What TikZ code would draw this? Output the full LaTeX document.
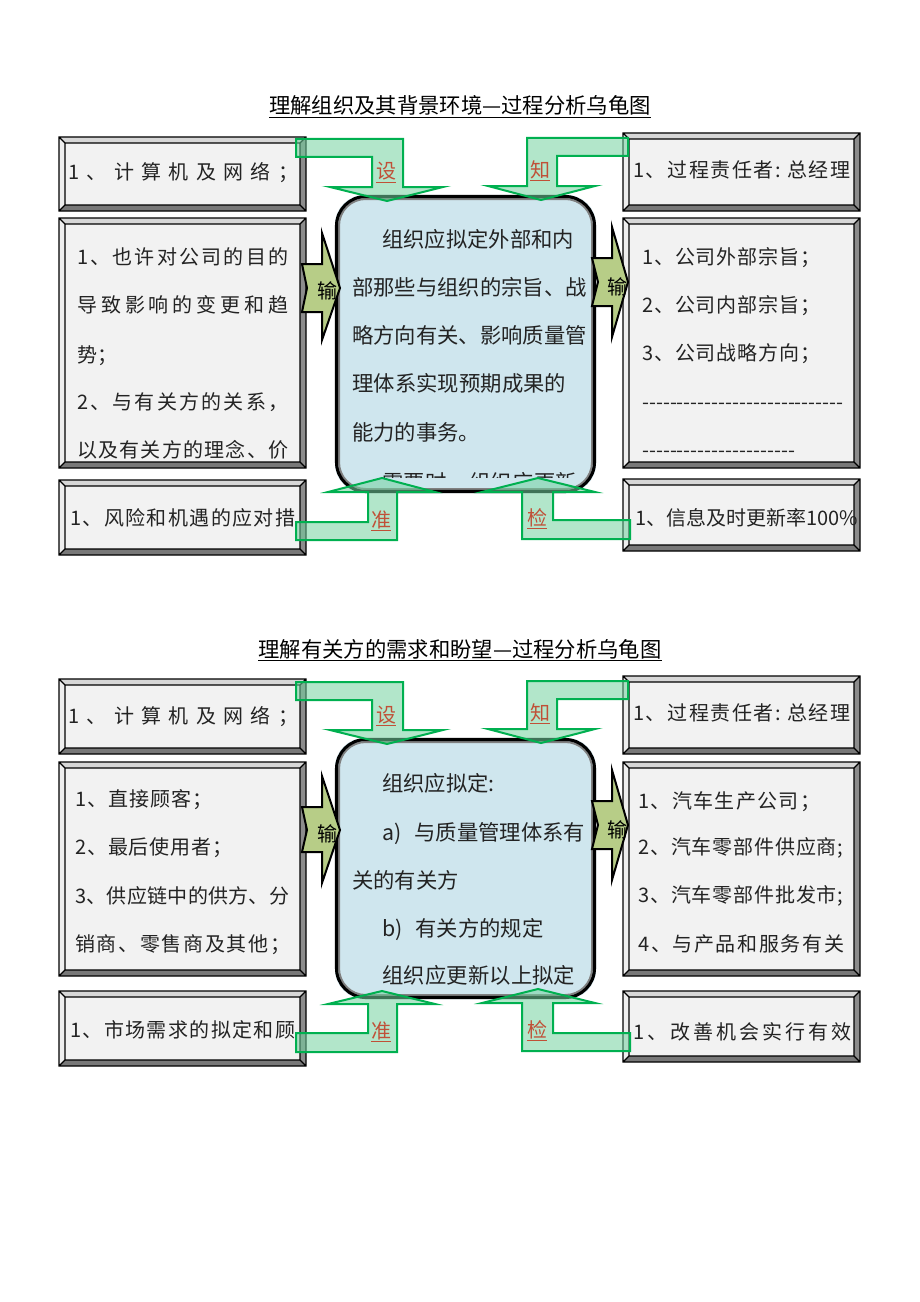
\documentclass[tikz,border=0pt]{standalone}
\usepackage{fontspec}
\setmainfont{Noto Sans CJK SC}
\definecolor{boxfill}{RGB}{242,242,242}
\definecolor{bevtop}{RGB}{215,215,215}
\definecolor{bevleft}{RGB}{238,238,238}
\definecolor{bevright}{RGB}{140,140,140}
\definecolor{bevbot}{RGB}{120,120,120}
\definecolor{ctrfill}{RGB}{207,230,238}
\definecolor{arrfill}{RGB}{115,210,160}
\definecolor{arrline}{RGB}{0,176,80}
\definecolor{shufill}{RGB}{183,205,135}
\definecolor{lblred}{RGB}{192,80,55}
\definecolor{txtc}{RGB}{35,35,35}
\newdimen\px \px=0.75pt
\def\SPstop{SPSTOPMARK}
\def\SPfirst#1{{#1}\SPrest}
\def\SPrest#1{\ifx\SPstop#1\else\hfil{#1}\expandafter\SPrest\fi}
\newcommand\spreadtext[2]{\makebox[#1][s]{\SPfirst#2\SPstop}}
\newcommand\bevbox[4]{%
 \fill[bevleft] (#1,#2) -- (#1+6,#2+6) -- (#1+6,#4-6) -- (#1,#4) -- cycle;
 \fill[bevtop] (#1,#2) -- (#3,#2) -- (#3-6,#2+6) -- (#1+6,#2+6) -- cycle;
 \fill[bevright] (#3,#2) -- (#3,#4) -- (#3-6,#4-6) -- (#3-6,#2+6) -- cycle;
 \fill[bevbot] (#1,#4) -- (#3,#4) -- (#3-6,#4-6) -- (#1+6,#4-6) -- cycle;
 \fill[boxfill] (#1+6,#2+6) rectangle (#3-6,#4-6);
 \draw[bevline] (#1,#2) rectangle (#3,#4) (#1+6,#2+6) rectangle (#3-6,#4-6)
   (#1,#2) -- (#1+6,#2+6) (#3,#2) -- (#3-6,#2+6) (#1,#4) -- (#1+6,#4-6) (#3,#4) -- (#3-6,#4-6);
}
\newcommand\ctrbox[4]{%
 \fill[ctrfill, rounded corners=22pt] (#1,#2) rectangle (#3,#4);
 \draw[black!50, line width=1.5pt, rounded corners=20pt] (#1+4,#2+4) rectangle (#3-4,#4-4);
 \draw[black, line width=2.3pt, rounded corners=22pt] (#1+1.5,#2+1.5) rectangle (#3-1.5,#4-1.5);
}
\begin{document}
\begin{tikzpicture}[x=0.75pt,y=-0.75pt,
  bevline/.style={draw=black, line width=0.9pt},
  txt/.style={anchor=west, inner sep=0pt, text=txtc, font=\fontsize{15}{18}\selectfont, text height=13.2pt, text depth=1.8pt},
  ctxt/.style={anchor=west, inner sep=0pt, text=txtc, font=\fontsize{16}{19}\selectfont, text height=14.1pt, text depth=1.9pt},
  ttl/.style={anchor=base, inner sep=0pt, text=black, font=\fontsize{16}{19}\selectfont},
  lbl/.style={anchor=base, inner sep=0pt, text=lblred, font=\fontsize{15}{18}\selectfont},
  shulbl/.style={inner sep=0pt, text=black, font=\fontsize{15}{18}\selectfont},
  sarrow/.style={fill=shufill, draw=black, line width=1.5pt, line join=miter},
  garrow/.style={fill=arrfill, fill opacity=0.55, draw=arrline, line width=1.5pt, line join=miter}]
\fill[white] (0,0) rectangle (920,1302);
\useasboundingbox (0,0) rectangle (920,1302);

% ================= Diagram 1 =================
\node[ttl] (title1) at (460,114) {\underline{理解组织及其背景环境—过程分析乌龟图}};
\bevbox{59}{137}{306}{211}
\bevbox{623}{133}{860}{211}
\bevbox{59}{218}{306}{468}
\bevbox{623}{218}{860}{468}
\bevbox{59}{480}{306}{555}
\bevbox{623}{479}{860}{551}
\ctrbox{335}{195}{596}{493}

\node[txt] (a1) at (68,172) {\spreadtext{230\px}{1、计算机及网络；}};
\node[txt] (a2) at (633,170) {\spreadtext{217\px}{1、过程责任者{:\ }总经理}};
\node[txt] (a3) at (77,257) {\spreadtext{211\px}{1、也许对公司的目的}};
\node[txt] (a4) at (77,305) {\spreadtext{211\px}{导致影响的变更和趋}};
\node[txt] (a5) at (77,355) {势；};
\node[txt] (a6) at (77,402) {\spreadtext{211\px}{2、与有关方的关系，}};
\begin{scope}
\clip (66,430) rectangle (300,458);
\node[txt] (a7) at (77,450) {\spreadtext{211\px}{以及有关方的理念、价}};
\end{scope}

\node[ctxt] (c1) at (382,239) {\spreadtext{192\px}{组织应拟定外部和内}};
\node[ctxt] (c2) at (352,287) {\spreadtext{226\px}{部那些与组织的宗旨、战}};
\node[ctxt] (c3) at (352,335) {\spreadtext{226\px}{略方向有关、影响质量管}};
\node[ctxt] (c4) at (352,383) {\spreadtext{214\px}{理体系实现预期成果的}};
\node[ctxt] (c5) at (352,432) {能力的事务。};
\begin{scope}
\clip (340,455) rectangle (590,477);
\node[ctxt] (c6) at (382,482) {\spreadtext{195\px}{需要时，组织应更新}};
\end{scope}

\node[txt] (r1) at (642,257) {\spreadtext{178\px}{1、公司外部宗旨；}};
\node[txt] (r2) at (642,305) {\spreadtext{178\px}{2、公司内部宗旨；}};
\node[txt] (r3) at (642,353) {\spreadtext{178\px}{3、公司战略方向；}};
\node[txt] (r4) at (642,402) {\spreadtext{194\px}{-----------------------------}};
\node[txt] (r5) at (642,450) {\spreadtext{147\px}{----------------------}};

\node[txt] (b1) at (70,518) {\spreadtext{225\px}{1、风险和机遇的应对措}};
\node[txt] (b2) at (635,518) {\spreadtext{220\px}{1、信息及时更新率{100\%}}};

\draw[sarrow] (302,264) -- (322,264) -- (322,233) -- (340,288) -- (322,340) -- (322,312) -- (302,312) -- (307,288) -- cycle;
\node[shulbl] (s1) at (327,291) {输};
\draw[sarrow] (592,258) -- (612,258) -- (612,227) -- (628,282) -- (612,337) -- (612,306) -- (592,306) -- (598,282) -- cycle;
\node[shulbl] (s2) at (617,287) {输};

\draw[garrow] (296,139) -- (403,139) -- (403,187) -- (443,187) -- (387,201) -- (330,187) -- (372,187) -- (372,157) -- (296,157) -- cycle;
\node[lbl] (g1) at (386,179) {\underline{设}};
\draw[garrow] (628,138) -- (628,156) -- (557,156) -- (557,186) -- (595,186) -- (541,200) -- (488,186) -- (527,186) -- (527,138) -- cycle;
\node[lbl] (g2) at (540,177) {\underline{知}};
\draw[garrow] (382,478) -- (435,492) -- (397,492) -- (397,540) -- (296,540) -- (296,522) -- (368,522) -- (368,492) -- (328,492) -- cycle;
\node[lbl] (g3) at (381,527) {\underline{准}};
\draw[garrow] (538,478) -- (595,492) -- (553,492) -- (553,520) -- (630,520) -- (630,539) -- (522,539) -- (522,492) -- (482,492) -- cycle;
\node[lbl] (g4) at (537,525) {\underline{检}};

% ================= Diagram 2 =================
\node[ttl] (title2) at (460,657) {\underline{理解有关方的需求和盼望—过程分析乌龟图}};
\bevbox{59}{679}{306}{754}
\bevbox{623}{676}{860}{754}
\bevbox{59}{762}{306}{976}
\bevbox{623}{762}{860}{976}
\bevbox{59}{991}{306}{1066}
\bevbox{623}{991}{860}{1062}
\ctrbox{335}{738}{596}{999}

\node[txt] (d1) at (68,716) {\spreadtext{230\px}{1、计算机及网络；}};
\node[txt] (d2) at (633,713) {\spreadtext{217\px}{1、过程责任者{:\ }总经理}};
\node[txt] (d3) at (75,799) {\spreadtext{137\px}{1、直接顾客；}};
\node[txt] (d4) at (75,847) {\spreadtext{157\px}{2、最后使用者；}};
\node[txt] (d5) at (75,896) {\spreadtext{214\px}{3、供应链中的供方、分}};
\node[txt] (d6) at (75,944) {\spreadtext{215\px}{销商、零售商及其他；}};

\node[ctxt] (e1) at (382,783) {组织应拟定:};
\node[ctxt] (e2) at (382,832) {a)\hspace{13\px}\spreadtext{166\px}{与质量管理体系有}};
\node[ctxt] (e3) at (352,880) {关的有关方};
\node[ctxt] (e4) at (382,928) {b)\hspace{13\px}有关方的规定};
\node[ctxt] (e5) at (382,975) {\spreadtext{193\px}{组织应更新以上拟定}};

\node[txt] (f1) at (638,801) {\spreadtext{182\px}{1、汽车生产公司；}};
\node[txt] (f2) at (638,847) {\spreadtext{205\px}{2、汽车零部件供应商;}};
\node[txt] (f3) at (638,895) {\spreadtext{205\px}{3、汽车零部件批发市;}};
\node[txt] (f4) at (638,944) {\spreadtext{206\px}{4、与产品和服务有关}};

\node[txt] (h1) at (70,1030) {\spreadtext{225\px}{1、市场需求的拟定和顾}};
\node[txt] (h2) at (633,1032) {\spreadtext{218\px}{1、改善机会实行有效}};

\draw[sarrow] (302,807) -- (322,807) -- (322,776) -- (340,830) -- (322,883) -- (322,852) -- (302,852) -- (307,830) -- cycle;
\node[shulbl] (s3) at (327,834) {输};
\draw[sarrow] (592,801) -- (612,801) -- (612,770) -- (628,825) -- (612,880) -- (612,849) -- (592,849) -- (598,825) -- cycle;
\node[shulbl] (s4) at (617,830) {输};

\draw[garrow] (296,682) -- (403,682) -- (403,730) -- (443,730) -- (387,744) -- (330,730) -- (372,730) -- (372,700) -- (296,700) -- cycle;
\node[lbl] (g5) at (386,722) {\underline{设}};
\draw[garrow] (628,681) -- (628,699) -- (557,699) -- (557,729) -- (595,729) -- (541,743) -- (488,729) -- (527,729) -- (527,681) -- cycle;
\node[lbl] (g6) at (540,720) {\underline{知}};
\draw[garrow] (382,991) -- (435,1004) -- (397,1004) -- (397,1052) -- (296,1052) -- (296,1033) -- (368,1033) -- (368,1004) -- (328,1004) -- cycle;
\node[lbl] (g7) at (381,1038) {\underline{准}};
\draw[garrow] (538,989) -- (595,1003) -- (553,1003) -- (553,1033) -- (630,1033) -- (630,1051) -- (522,1051) -- (522,1003) -- (482,1003) -- cycle;
\node[lbl] (g8) at (537,1037) {\underline{检}};
\end{tikzpicture}
\end{document}
